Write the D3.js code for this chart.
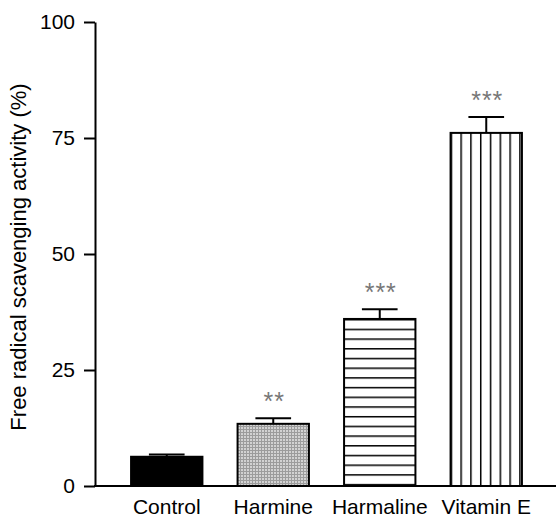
<!DOCTYPE html>
<html>
<head>
<meta charset="utf-8">
<script src="https://cdn.jsdelivr.net/npm/d3@7"></script>
<style>
  body { margin: 0; background: #fff; }
  svg { display: block; font-family: "Liberation Sans", Arial, sans-serif; }
</style>
</head>
<body>
<svg id="chart" width="556" height="517"></svg>
<script>
let groups = ["Control", "Harmine", "Harmaline", "Vitamin E"]
let means = [6.3, 13.4, 36.0, 76.1]
let errors = [0.5, 1.2, 2.1, 3.4]
let stars = ["", "**", "***", "***"]
let fills = ["solid", "grid", "hlines", "vlines"]
let yTicks = [0, 25, 50, 75, 100]

let svg = d3.select("#chart"),
    axisX = 95,
    axisY = 486,
    topY = 22

let defs = svg.append("defs")

// fine grey grid for Harmine
let grid = defs.append("pattern")
    .attr("id", "grid")
    .attr("patternUnits", "userSpaceOnUse")
    .attr("width", 3).attr("height", 3)
grid.append("rect").attr("width", 3).attr("height", 3).attr("fill", "#d2d2d2")
grid.append("path").attr("d", "M0,0.5H3M0.5,0V3").attr("stroke", "#9c9c9c").attr("stroke-width", 1)

let x = d3.scaleBand()
    .domain(groups)
    .range([113.5, 539.5])
    .paddingInner(0.33)
    .paddingOuter(0.165)

let y = d3.scaleLinear()
    .domain([0, 100])
    .range([axisY, topY])

// patterns anchored to each bar
groups.forEach((g, i) => {
    let bx = x(g), by = y(means[i])
    if (fills[i] == "hlines") {
        let p = defs.append("pattern")
            .attr("id", "pat" + i)
            .attr("patternUnits", "userSpaceOnUse")
            .attr("x", 0).attr("y", by)
            .attr("width", 10).attr("height", 9.7)
        p.append("rect").attr("width", 10).attr("height", 9.7).attr("fill", "#fff")
        p.append("line").attr("x1", 0).attr("x2", 10).attr("y1", 0).attr("y2", 0)
            .attr("stroke", "#000").attr("stroke-width", 3)
    }
    if (fills[i] == "vlines") {
        let p = defs.append("pattern")
            .attr("id", "pat" + i)
            .attr("patternUnits", "userSpaceOnUse")
            .attr("x", bx).attr("y", 0)
            .attr("width", 9.8).attr("height", 10)
        p.append("rect").attr("width", 9.8).attr("height", 10).attr("fill", "#fff")
        p.append("line").attr("x1", 0).attr("x2", 0).attr("y1", 0).attr("y2", 10)
            .attr("stroke", "#000").attr("stroke-width", 3)
    }
})

function fillOf(d, i) {
    if (fills[i] == "solid") return "#000"
    if (fills[i] == "grid") return "url(#grid)"
    return `url(#pat${i})`
}

// error bars (drawn first so bar outline covers the stem bottom)
let eb = svg.append("g").attr("class", "errors")
    .attr("stroke", "#000").attr("stroke-width", 2)
groups.forEach((g, i) => {
    let cx = x(g) + x.bandwidth() / 2,
        hw = x.bandwidth() / 4
    eb.append("line")
        .attr("x1", cx).attr("x2", cx)
        .attr("y1", y(means[i])).attr("y2", y(means[i] + errors[i]))
    eb.append("line")
        .attr("x1", cx - hw).attr("x2", cx + hw)
        .attr("y1", y(means[i] + errors[i])).attr("y2", y(means[i] + errors[i]))
})

svg.append("g").attr("class", "bars")
    .selectAll("rect")
    .data(groups)
    .join("rect")
    .attr("x", d => x(d))
    .attr("y", (d, i) => y(means[i]))
    .attr("width", x.bandwidth())
    .attr("height", (d, i) => axisY - y(means[i]))
    .attr("fill", fillOf)
    .attr("stroke", "#000")
    .attr("stroke-width", 2)

// significance stars
svg.append("g").attr("class", "stars")
    .selectAll("text")
    .data(groups)
    .join("text")
    .attr("x", d => x(d) + x.bandwidth() / 2 + 1)
    .attr("y", (d, i) => y(means[i] + errors[i]) - 8)
    .attr("text-anchor", "middle")
    .attr("font-size", 25)
    .attr("fill", "#777")
    .attr("letter-spacing", 1)
    .text((d, i) => stars[i])

// y axis
let gy = svg.append("g")
    .attr("transform", `translate(${axisX},0)`)
    .call(d3.axisLeft(y).tickValues(yTicks).tickSize(11).tickPadding(9).tickSizeOuter(0))
gy.select(".domain").attr("stroke-width", 2)
gy.selectAll(".tick line").attr("stroke-width", 2)
gy.selectAll(".tick text")
    .attr("font-size", 21)
    .attr("font-family", "Liberation Sans, Arial, sans-serif")
    .attr("fill", "#000")

// x axis
let gx = svg.append("g")
    .attr("transform", `translate(0,${axisY})`)
gx.append("line")
    .attr("x1", axisX - 1).attr("x2", 556)
    .attr("stroke", "#000").attr("stroke-width", 2)
gx.selectAll("text")
    .data(groups)
    .join("text")
    .attr("x", d => x(d) + x.bandwidth() / 2)
    .attr("y", 28)
    .attr("text-anchor", "middle")
    .attr("font-size", 21)
    .text(d => d)

svg.append("text")
    .attr("transform", `translate(26,${(axisY + topY) / 2 + 3}) rotate(-90)`)
    .attr("text-anchor", "middle")
    .attr("font-size", 22)
    .text("Free radical scavenging activity (%)")
</script>
</body>
</html>
